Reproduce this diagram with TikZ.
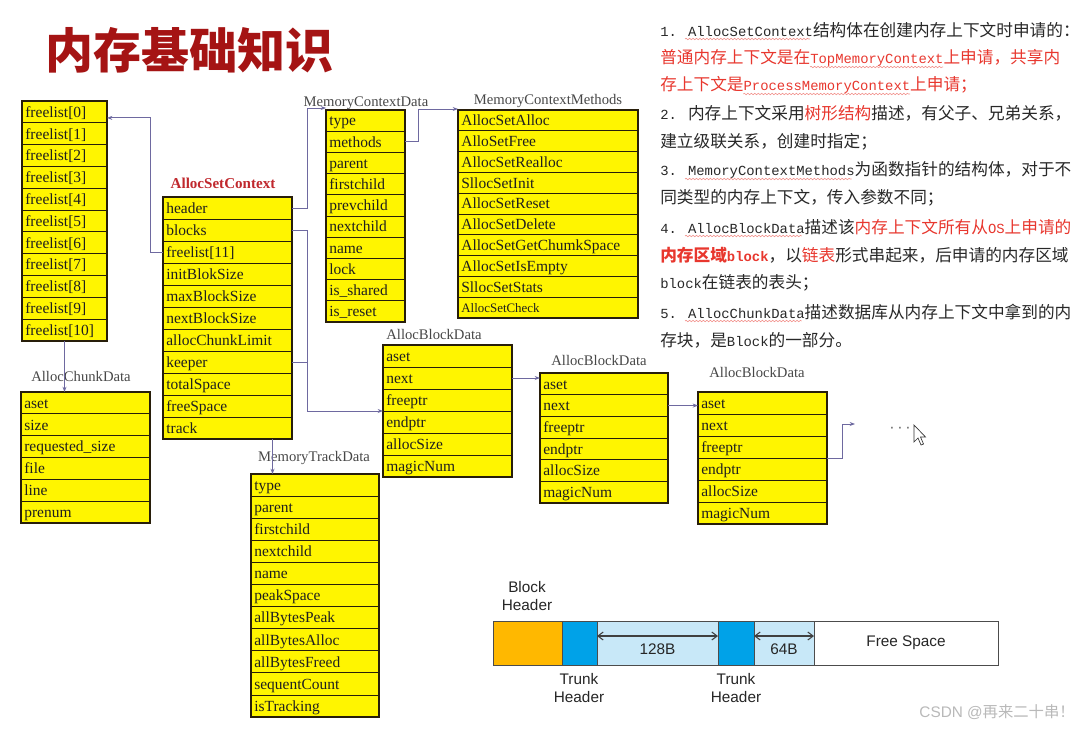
\documentclass[tikz,border=0pt]{standalone}
\usepackage{fontspec}
\setmainfont{Liberation Serif}
\newfontfamily\cjk{Noto Sans CJK SC}
\newfontfamily\mono[Scale=0.833]{Liberation Mono}
\newfontfamily\arial{Liberation Sans}
\usetikzlibrary{arrows.meta,calc,decorations.pathmorphing}
\definecolor{cellyellow}{RGB}{255,245,0}
\definecolor{cellline}{RGB}{40,30,10}
\definecolor{conncol}{RGB}{110,105,160}
\definecolor{titlered}{RGB}{165,20,20}
\definecolor{labred}{RGB}{192,40,45}
\definecolor{txtred}{RGB}{232,55,46}
\definecolor{txt}{RGB}{40,40,40}
\definecolor{orangeh}{RGB}{255,184,0}
\definecolor{blueh}{RGB}{0,162,232}
\definecolor{lightb}{RGB}{200,232,248}
\definecolor{wm}{RGB}{185,185,185}
\newcommand\zh[1]{{\cjk #1}}
\newcommand\mn[1]{{\mono #1}}
\newcommand\rd[1]{{\color{txtred}#1}}
\newcommand\tbl[7]{%
  \pgfmathsetmacro\tblw{#4*0.75}%
  \pgfmathsetmacro\tblh{#5*0.75}%
  \pgfmathsetmacro\tbltw{#4*0.75-5}%
  \foreach \entry [count=\i] in {#7}{%
    \node[cell, minimum width=\tblw pt, minimum height=\tblh pt, text width=\tbltw pt] (#1-\i) at (#2,{#3+(\i-1)*#5}) {\entry};
  }%
  \draw[frame] (#1-1.north west) rectangle (#1-#6.south east);
}
\begin{document}
\begin{tikzpicture}[x=0.75pt,y=-0.75pt,
  cell/.style={draw=cellline, line width=0.7pt, fill=cellyellow, anchor=north west, outer sep=0pt, inner xsep=2.5pt, inner ysep=0pt, text height=9.5pt, text depth=1.5pt, align=left, font=\fontsize{11.6pt}{12pt}\selectfont, text=black!88},
  frame/.style={draw=cellline, line width=1.3pt},
  conn/.style={draw=conncol, line width=0.7pt, -{Stealth[length=4pt,width=3pt]}},
  connl/.style={draw=conncol, line width=0.7pt},
  lab/.style={font=\fontsize{11pt}{12pt}\selectfont, text=black!72, inner sep=0pt},
  rt/.style={anchor=west, inner sep=0pt, font=\fontsize{12.5pt}{15pt}\selectfont, text=txt},
  wave/.style={draw=txtred!55, line width=0.45pt, decorate, decoration={snake, amplitude=0.55pt, segment length=2.6pt}},
  bar/.style={draw=black!70, line width=0.6pt, anchor=north west, outer sep=0pt, inner sep=0pt, minimum height=33pt},
  sl/.style={font=\arial\fontsize{11.5pt}{13pt}\selectfont, text=black!85, align=center, inner sep=0pt},
  dim/.style={draw=black!75, line width=0.8pt, {Straight Barb[length=4pt,width=6pt]}-{Straight Barb[length=4pt,width=6pt]}}
]
\fill[white] (0,0) rectangle (1080,728);
\useasboundingbox (0,0) rectangle (1080,728);

% title
\node[font=\cjk\bfseries\fontsize{36pt}{40pt}\selectfont, text=titlered, inner sep=0pt] (title) at (189,50) {内存基础知识};

% tables
\tbl{fl}{22}{101}{85}{21.82}{11}{freelist[0],freelist[1],freelist[2],freelist[3],freelist[4],freelist[5],freelist[6],freelist[7],freelist[8],freelist[9],freelist[10]}
\tbl{asc}{163}{197}{129}{22}{11}{header,blocks,freelist[11],initBlokSize,maxBlockSize,nextBlockSize,allocChunkLimit,keeper,totalSpace,freeSpace,track}
\tbl{acd}{21}{392}{129}{21.8}{6}{aset,size,requested\_size,file,line,prenum}
\tbl{mcd}{326}{110}{79}{21.2}{10}{type,methods,parent,firstchild,prevchild,nextchild,name,lock,is\_shared,is\_reset}
\tbl{mcm}{458}{110}{180}{20.8}{10}{AllocSetAlloc,AlloSetFree,AllocSetRealloc,SllocSetInit,AllocSetReset,AllocSetDelete,AllocSetGetChumkSpace,AllocSetIsEmpty,SllocSetStats,{\fontsize{9.7pt}{10pt}\selectfont AllocSetCheck}}
\tbl{abd1}{383}{345}{129}{22}{6}{aset,next,freeptr,endptr,allocSize,magicNum}
\tbl{abd2}{540}{373}{128}{21.7}{6}{aset,next,freeptr,endptr,allocSize,magicNum}
\tbl{abd3}{698}{392}{129}{22}{6}{aset,next,freeptr,endptr,allocSize,magicNum}
\tbl{mtd}{251}{474}{128}{22.1}{11}{type,parent,firstchild,nextchild,name,peakSpace,allBytesPeak,allBytesAlloc,allBytesFreed,sequentCount,isTracking}

% table labels
\node[lab, text=labred, font=\bfseries\fontsize{11.3pt}{12pt}\selectfont] (l-asc) at (223,183) {AllocSetContext};
\node[lab] (l-acd) at (81,376) {AllocChunkData};
\node[lab] (l-mcd) at (366,103) {MemoryContextData};
\node[lab] (l-mcm) at (548,101) {MemoryContextMethods};
\node[lab] (l-abd1) at (434,334) {AllocBlockData};
\node[lab] (l-abd2) at (599,360) {AllocBlockData};
\node[lab] (l-abd3) at (757,372) {AllocBlockData};
\node[lab] (l-mtd) at (314,458) {MemoryTrackData};

% connectors
\draw[conn] (asc-3.west) -- ++(-13,0) |- ([yshift=-4.5pt]fl-1.east);
\draw[conn] (fl-11.south) -- (fl-11.south |- acd-1.north);
\draw[conn] (asc-1.east) -- ++(15,0) |- ([yshift=1.5pt]mcd-1.north west);
\draw[conn] (mcd-2.east) -- ++(13,0) |- ([yshift=0.75pt]mcm-1.north west);
\draw[conn] (asc-2.east) -- ++(15,0) |- (abd1-3.south west);
\draw[connl] (asc-8.east) -- ++(15,0);
\coordinate (trk) at ($(asc-11.south)+(45,0)$);
\draw[conn] (trk) -- (trk |- mtd-1.north);
\draw[conn] (abd1-2.east) -- (abd1-2.east -| abd2-1.west);
\draw[conn] (abd2-2.east) -- (abd2-2.east -| abd3-1.west);
\coordinate (more) at (855,424);
\draw[conn] (abd3-3.south east) -- ++(15,0) |- (more);
\node[text=black!60, font=\arial\fontsize{12pt}{12pt}\selectfont, inner sep=0pt] (dots) at (900,430) {·\,·\,·};
\draw[fill=white, draw=black!80, line width=0.5pt] (914,425) -- ++(0,17) -- ++(4,-4) -- ++(3,7) -- ++(2.5,-1) -- ++(-3,-7) -- ++(5,0) -- cycle;

% right text
\node[rt] (r1) at (660,30) {\mn{1. }\mn{AllocSetContext}\zh{结构体在创建内存上下文时申请的：}};
\node[rt, text=txtred] (r2) at (660,58) {\zh{普通内存上下文是在}\mn{TopMemoryContext}\zh{上申请，共享内}};
\node[rt, text=txtred] (r3) at (660,85) {\zh{存上下文是}\mn{ProcessMemoryContext}\zh{上申请；}};
\node[rt] (r4) at (660,113) {\mn{2. }\zh{内存上下文采用\rd{树形结构}描述，有父子、兄弟关系，}};
\node[rt] (r5) at (660,142) {\zh{建立级联关系，创建时指定；}};
\node[rt] (r6) at (660,170) {\mn{3. }\mn{MemoryContextMethods}\zh{为函数指针的结构体，对于不}};
\node[rt] (r7) at (660,198) {\zh{同类型的内存上下文，传入参数不同；}};
\node[rt] (r8) at (660,227) {\mn{4. }\mn{AllocBlockData}\zh{描述该}\rd{\zh{内存上下文所有从}\mn{OS}\zh{上申请的}}};
\node[rt] (r9) at (660,255) {\rd{\bfseries\zh{内存区域}\mn{block}}\zh{，以}\rd{\zh{链表}}\zh{形式串起来，后申请的内存区域}};
\node[rt] (r10) at (660,283) {\mn{block}\zh{在链表的表头；}};
\node[rt] (r11) at (660,312) {\mn{5. }\mn{AllocChunkData}\zh{描述数据库从内存上下文中拿到的内}};
\node[rt] (r12) at (660,340) {\zh{存块，是}\mn{Block}\zh{的一部分。}};
% spell-check wavy underlines
\draw[wave] ($(r1.west)+(25,9)$) -- ++(125,0);
\draw[wave] ($(r2.west)+(150,9)$) -- ++(133,0);
\draw[wave] ($(r3.west)+(83.3,9)$) -- ++(166.7,0);
\draw[wave] ($(r6.west)+(25,9)$) -- ++(166.7,0);
\draw[wave] ($(r8.west)+(25,9)$) -- ++(116.7,0);
\draw[wave] ($(r11.west)+(25,9)$) -- ++(116.7,0);

% block layout bar
\node[bar, fill=orangeh, minimum width=51.75pt] (bh) at (493,621) {};
\node[bar, fill=blueh, minimum width=26.25pt] (th1) at (bh.north east) {};
\node[bar, fill=lightb, minimum width=90.75pt] (d1) at (th1.north east) {};
\node[bar, fill=blueh, minimum width=27pt] (th2) at (d1.north east) {};
\node[bar, fill=lightb, minimum width=45pt] (d2) at (th2.north east) {};
\node[bar, fill=white, minimum width=138pt, font=\arial\fontsize{11.5pt}{13pt}\selectfont, text=black!85] (fs) at (d2.north east) {Free Space};
\draw[dim] ([yshift=5.25pt]d1.west) -- ([yshift=5.25pt]d1.east);
\draw[dim] ([yshift=5.25pt]d2.west) -- ([yshift=5.25pt]d2.east);
\node[sl] (t128) at ([yshift=-4.5pt]d1.center) {128B};
\node[sl] (t64) at ([yshift=-4.5pt]d2.center) {64B};
\node[sl] (lbh) at (527,596) {Block\\Header};
\node[sl] (lth1) at (579,688) {Trunk\\Header};
\node[sl] (lth2) at (736,688) {Trunk\\Header};

% watermark
\node[anchor=east, inner sep=0pt, text=wm, font=\arial\fontsize{11.5pt}{13pt}\selectfont] (wmk) at (1075,712) {CSDN @\zh{再来二十串！}};
\end{tikzpicture}
\end{document}
